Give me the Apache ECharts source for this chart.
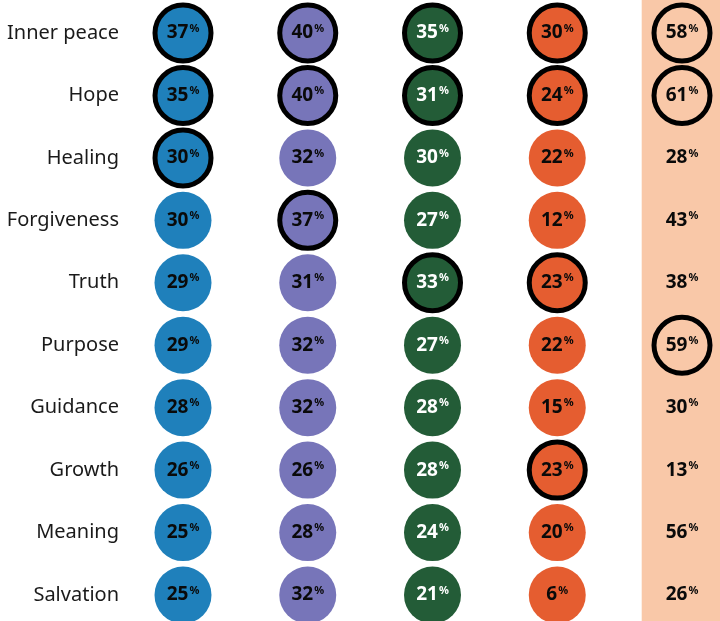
<!DOCTYPE html>
<html><head><meta charset="utf-8">
<script src="https://cdn.jsdelivr.net/npm/echarts@6/dist/echarts.min.js"></script>
<style>html,body{margin:0;padding:0;background:#fff}#c{width:720px;height:621px}</style>
</head><body><div id="c"></div>
<script>
const categories = ['Inner peace','Hope','Healing','Forgiveness','Truth','Purpose','Guidance','Growth','Meaning','Salvation'];
const col1 = [37,35,30,30,29,29,28,26,25,25];
const col2 = [40,40,32,37,31,32,32,26,28,32];
const col3 = [35,31,30,27,33,27,28,28,24,21];
const col4 = [30,24,22,12,23,22,15,23,20,6];
const col5 = [58,61,28,43,38,59,30,13,56,26];
const hi1 = [0,1,2];
const hi2 = [0,1,3];
const hi3 = [0,1,4];
const hi4 = [0,1,4,7];
const hi5 = [0,1,5];
const columns = [
  {vals: col1, hi: hi1, color: '#1F80BB', text: '#0a0a0a'},
  {vals: col2, hi: hi2, color: '#7775B9', text: '#0a0a0a'},
  {vals: col3, hi: hi3, color: '#235C37', text: '#ffffff'},
  {vals: col4, hi: hi4, color: '#E55D30', text: '#0a0a0a'},
  {vals: col5, hi: hi5, color: 'rgba(0,0,0,0)', text: '#0a0a0a', noFill: true}
];
const chart = echarts.init(document.getElementById('c'), null, {renderer: 'canvas'});
const series = columns.map((col, ci) => ({
  type: 'scatter',
  z: 3,
  data: col.vals.map((v, ri) => {
    const h = col.hi.includes(ri);
    return {
      value: [ci, ri, v],
      symbolSize: h ? 56 : (col.noFill ? 0 : 57),
      itemStyle: {
        color: col.color,
        opacity: 1,
        borderColor: '#000',
        borderWidth: h ? 5 : 0
      }
    };
  }),
  label: {
    show: true,
    position: 'inside',
    formatter: p => '{a|' + p.value[2] + '}{b|%}',
    rich: {
      a: {fontFamily: 'Noto Sans', fontWeight: 'bold', fontSize: 19, color: col.text, lineHeight: 20},
      b: {fontFamily: 'Noto Sans', fontWeight: 'bold', fontSize: 11, color: col.text, verticalAlign: 'top', lineHeight: 12, padding: [0,0,6,1]}
    }
  },
  emphasis: {disabled: true},
  markArea: ci === 4 ? {
    silent: true,
    itemStyle: {color: '#F9C8A8', opacity: 1},
    data: [[{xAxis: 3.677, yAxis: -0.5285}, {xAxis: 4.3046, yAxis: 9.4164}]]
  } : undefined
}));
chart.setOption({
  animation: false,
  grid: {left: 183, right: 0, top: 0, bottom: 0, containLabel: false},
  xAxis: {type: 'value', min: 0, max: 4.3046, show: false},
  yAxis: {
    type: 'value', min: -0.5285, max: 9.4164, inverse: true,
    axisLine: {show: false}, axisTick: {show: false}, splitLine: {show: false},
    axisLabel: {margin: 64, fontFamily: 'Noto Sans', fontSize: 20, color: '#1a1a1a',
      customValues: [0,1,2,3,4,5,6,7,8,9],
      formatter: v => categories[Math.round(v)] || ''}
  },
  series: series
});
</script></body></html>
